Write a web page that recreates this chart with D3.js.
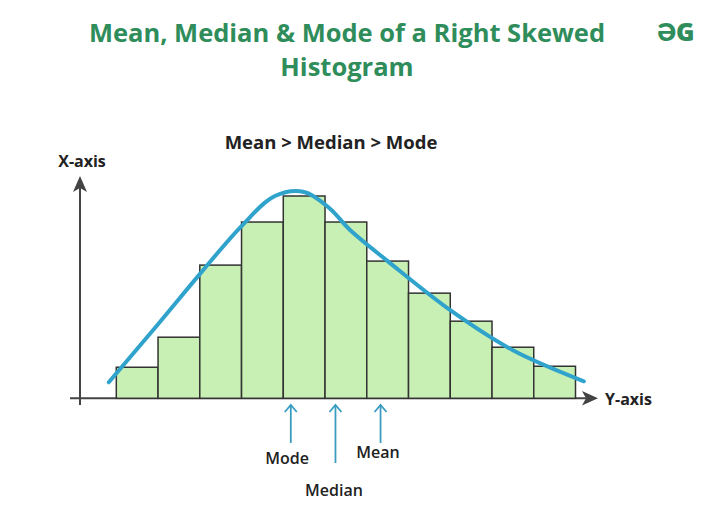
<!DOCTYPE html><html><head><meta charset="utf-8"><script src="https://cdn.jsdelivr.net/npm/d3@7"></script>
<style>body{margin:0;background:#fff}text{font-family:"Open Sans",Lato,sans-serif}</style></head><body>
<svg id="c" width="720" height="513"></svg>
<script>
const bins=[0,1,2,3,4,5,6,7,8,9,10];
const counts=[31,61,133,176,202,176,137,105,77,51,32];
const curveX=[-0.18,1,2,3,3.8,4.5,5.1,5.6,6.5,8,9.5,11.2];
const curveY=[16,74,124,172,202,206,190,168,137,88,48,17];
const markers=["Mode","Median","Mean"];
const markerX=[4.18,5.25,6.33];
const svg=d3.select("#c");
const x=d3.scaleLinear().domain([0,11]).range([116.3,575.5]);
const y=d3.scaleLinear().domain([0,202]).range([398.3,196]);
const g="#2f8d5b";
svg.append("text").attr("x",347).attr("y",42).attr("text-anchor","middle").attr("font-size",25.5).attr("font-weight",700).attr("fill",g).text("Mean, Median & Mode of a Right Skewed");
svg.append("text").attr("x",347).attr("y",76).attr("text-anchor","middle").attr("font-size",25.5).attr("font-weight",700).attr("fill",g).text("Histogram");
svg.append("text").attr("x",676).attr("y",41).attr("text-anchor","middle").attr("font-size",25).attr("font-weight",800).attr("fill",g).text("ƏG");
svg.append("text").attr("x",331).attr("y",149).attr("text-anchor","middle").attr("font-size",18.5).attr("font-weight",700).attr("fill","#222").text("Mean > Median > Mode");
svg.append("text").attr("x",82).attr("y",167).attr("text-anchor","middle").attr("font-size",16).attr("font-weight",700).attr("fill","#222").text("X-axis");
svg.append("text").attr("x",605).attr("y",405).attr("font-size",16).attr("font-weight",700).attr("fill","#222").text("Y-axis");
const ax="#444";
svg.append("line").attr("x1",80).attr("x2",80).attr("y1",185).attr("y2",405).attr("stroke",ax).attr("stroke-width",2);
svg.append("path").attr("d","M73,192 L80,176 L87,192 L80,188Z").attr("fill",ax);
svg.append("line").attr("x1",70).attr("x2",588).attr("y1",398.3).attr("y2",398.3).attr("stroke",ax).attr("stroke-width",2);
svg.append("path").attr("d","M582,391 L598,398.3 L582,405.5 L586,398.3Z").attr("fill",ax);
svg.selectAll("rect.b").data(bins).join("rect").attr("class","b")
 .attr("x",d=>x(d)).attr("width",x(1)-x(0)).attr("y",(d,i)=>y(counts[i])).attr("height",(d,i)=>y(0)-y(counts[i]))
 .attr("fill","#c8f0b4").attr("stroke","#333").attr("stroke-width",1.5);
svg.append("path").datum(curveX.map((v,i)=>[v,curveY[i]])).attr("d",d3.line().x(d=>x(d[0])).y(d=>y(d[1])).curve(d3.curveCatmullRom.alpha(0.5)))
 .attr("fill","none").attr("stroke","#2fa3cc").attr("stroke-width",4).attr("stroke-linecap","round");
const ends=[443,463,443], lab=[[287,464],[334,496],[378,458]];
markers.forEach((m,i)=>{const px=x(markerX[i]);
 svg.append("line").attr("x1",px).attr("x2",px).attr("y1",405).attr("y2",ends[i]).attr("stroke","#3a9cc0").attr("stroke-width",1.8);
 svg.append("path").attr("d",`M${px-6},${412} L${px},${405} L${px+6},${412}`).attr("fill","none").attr("stroke","#3a9cc0").attr("stroke-width",1.8);
 svg.append("text").attr("x",lab[i][0]).attr("y",lab[i][1]).attr("text-anchor","middle").attr("font-size",16).attr("font-weight",600).attr("fill","#222").text(m);
});
</script></body></html>
